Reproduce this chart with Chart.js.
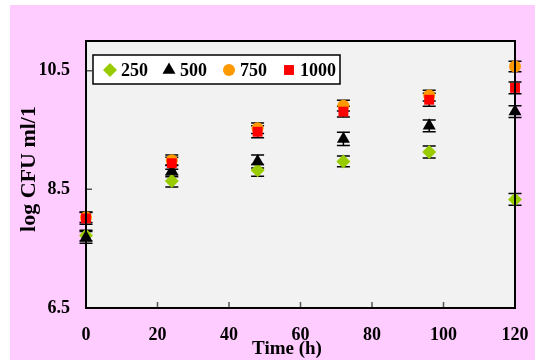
<!DOCTYPE html>
<html>
<head>
<meta charset="utf-8">
<script src="https://cdn.jsdelivr.net/npm/chart.js@4.4.0/dist/chart.umd.min.js"></script>
<style>
  html, body { margin: 0; padding: 0; background: #ffffff; }
  #wrap { width: 535px; height: 360px; position: relative; }
</style>
</head>
<body>
<div id="wrap"><canvas id="cfuChart" width="535" height="360"></canvas></div>
<script>
// sampling times (h)
const hours = [0, 24, 48, 72, 96, 120];

// log CFU per dose
const cfu250 = [7.72, 8.64, 8.82, 8.97, 9.13, 8.33];
const cfu500 = [7.69, 8.81, 8.97, 9.35, 9.57, 9.81];
const cfu750 = [8.03, 8.99, 9.53, 9.91, 10.08, 10.57];
const cfu1000 = [8.01, 8.94, 9.47, 9.81, 10.01, 10.21];

// error bars (+/-)
const err250 = [0.09, 0.1, 0.1, 0.09, 0.1, 0.1];
const err500 = [0.1, 0.1, 0.11, 0.11, 0.1, 0.1];
const err750 = [0.09, 0.09, 0.09, 0.09, 0.09, 0.09];
const err1000 = [0.1, 0.1, 0.1, 0.09, 0.11, 0.1];

const doses = ['250', '500', '750', '1000'];
const xTicks = [0, 20, 40, 60, 80, 100, 120];
const yTicks = [6.5, 8.5, 10.5];

var ctx = document.getElementById('cfuChart').getContext('2d');

Chart.defaults.font.family = "'Liberation Serif', 'Times New Roman', serif";
Chart.defaults.font.weight = 'bold';
Chart.defaults.color = '#000000';

function pts(ys, es) {
  var out = [];
  for (var n = 0; n < hours.length; n++) {
    out.push({ x: hours[n], y: ys[n], e: es[n] });
  }
  return out;
}

function series(label, ys, es, style, color, r, order) {
  return {
    label: label,
    data: pts(ys, es),
    pointStyle: style,
    pointRadius: r,
    pointBackgroundColor: color,
    pointBorderColor: color,
    pointBorderWidth: 0,
    showLine: false,
    clip: false,
    order: order
  };
}

var datasets = [
  series(doses[0], cfu250, err250, 'rectRot', '#99CC00', 7, 3),
  series(doses[1], cfu500, err500, 'triangle', '#000000', 7.5, 2),
  series(doses[2], cfu750, err750, 'circle', '#FF9900', 6, 1),
  series(doses[3], cfu1000, err1000, 'rect', '#FF0000', 7, 0)
];

// pink background, grey plot area, frame and inside ticks
const framePlugin = {
  id: 'frame',
  beforeDraw(chart) {
    var c = chart.ctx, a = chart.chartArea;
    c.save();
    c.fillStyle = '#FFCCFF';
    c.fillRect(10, 5, chart.width - 10, chart.height - 5);
    c.fillStyle = '#F2F2F2';
    c.fillRect(a.left, a.top, a.right - a.left, a.bottom - a.top);
    c.restore();
  },
  afterDraw(chart) {
    var c = chart.ctx, a = chart.chartArea;
    var xs = chart.scales.x, ys = chart.scales.y;
    c.save();
    c.strokeStyle = '#555555';
    c.lineWidth = 1.5;
    c.beginPath();
    xTicks.forEach(function (v) {
      if (v == 0 || v == 120) return;
      var px = xs.getPixelForValue(v);
      c.moveTo(px, a.bottom);
      c.lineTo(px, a.bottom - 6);
    });
    yTicks.forEach(function (v) {
      if (v == 6.5) return;
      var py = ys.getPixelForValue(v);
      c.moveTo(a.left, py);
      c.lineTo(a.left + 6, py);
    });
    c.stroke();
    c.strokeStyle = '#000000';
    c.lineWidth = 2;
    c.strokeRect(a.left, a.top, a.right - a.left, a.bottom - a.top);

    // axis titles
    c.fillStyle = '#000000';
    c.textAlign = 'center';
    c.textBaseline = 'middle';
    c.font = "bold 19px 'Liberation Serif', serif";
    c.fillText('Time (h)', 287, 349);
    c.translate(29, 169);
    c.rotate(-Math.PI / 2);
    c.font = "bold 22px 'Liberation Serif', serif";
    c.fillText('log CFU ml/1', 0, 0);
    c.restore();

    // legend box inside the plot
    c.save();
    c.fillStyle = '#FFFFFF';
    c.fillRect(93, 55, 247, 29);
    c.strokeStyle = '#000000';
    c.lineWidth = 1.5;
    c.strokeRect(93, 55, 247, 29);
    c.font = "bold 18px 'Liberation Serif', serif";
    c.textAlign = 'left';
    c.textBaseline = 'middle';
    var lx = [110, 169, 229, 289];
    chart.data.datasets.forEach(function (ds, i) {
      c.fillStyle = ds.pointBackgroundColor;
      c.strokeStyle = ds.pointBorderColor;
      Chart.helpers.drawPoint(c, {
        pointStyle: ds.pointStyle,
        radius: ds.pointRadius,
        rotation: 0,
        borderWidth: 0
      }, lx[i], 70);
      c.fillStyle = '#000000';
      c.fillText(ds.label, lx[i] + 11, 71);
    });
    c.restore();
  }
};

// vertical error bars with caps, behind the markers
const errorBars = {
  id: 'errorBars',
  beforeDatasetsDraw(chart) {
    var c = chart.ctx;
    var xs = chart.scales.x, ys = chart.scales.y;
    c.save();
    c.strokeStyle = '#000000';
    c.lineWidth = 1.5;
    chart.data.datasets.forEach(function (ds) {
      ds.data.forEach(function (p) {
        var px = xs.getPixelForValue(p.x);
        var top = ys.getPixelForValue(p.y + p.e);
        var bot = ys.getPixelForValue(p.y - p.e);
        c.beginPath();
        c.moveTo(px, top); c.lineTo(px, bot);
        c.moveTo(px - 6.5, top); c.lineTo(px + 6.5, top);
        c.moveTo(px - 6.5, bot); c.lineTo(px + 6.5, bot);
        c.stroke();
      });
    });
    c.restore();
  }
};

var cfuChart = new Chart(ctx, {
  type: 'scatter',
  data: { datasets: datasets },
  options: {
    responsive: false,
    animation: false,
    layout: { padding: { left: 0, top: 41, right: 20, bottom: 0 } },
    plugins: {
      legend: { display: false },
      tooltip: { enabled: false }
    },
    scales: {
      x: {
        type: 'linear',
        min: 0,
        max: 120,
        grid: { display: false, drawTicks: false },
        border: { display: false },
        ticks: { font: { size: 18, weight: 'bold' }, padding: 17, maxRotation: 0 },
        afterBuildTicks: function (s) { s.ticks = xTicks.map(function (v) { return { value: v }; }); },
        afterFit: function (s) { s.height = 52; s.paddingLeft = 0; s.paddingRight = 0; }
      },
      y: {
        type: 'linear',
        min: 6.5,
        max: 11,
        grid: { display: false, drawTicks: false },
        border: { display: false },
        ticks: { font: { size: 18, weight: 'bold' }, padding: 16 },
        afterBuildTicks: function (s) { s.ticks = yTicks.map(function (v) { return { value: v }; }); },
        afterFit: function (s) { s.width = 86; s.paddingTop = 0; s.paddingBottom = 0; }
      }
    }
  },
  plugins: [framePlugin, errorBars]
});
</script>
</body>
</html>
